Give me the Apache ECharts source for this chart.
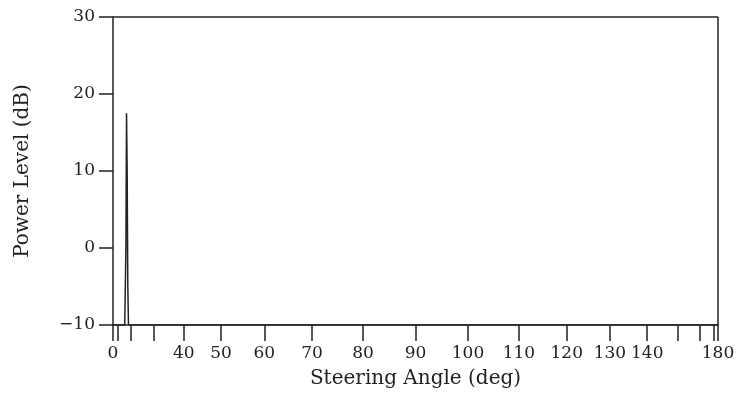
<!DOCTYPE html>
<html><head><meta charset="utf-8">
<script src="https://cdn.jsdelivr.net/npm/echarts@6/dist/echarts.min.js"></script>
<style>body{margin:0;background:#fff}#c{width:741px;height:409px}</style>
</head><body><div id="c"></div>
<script>
// steering angle (deg) and power level (dB) of the trace
var angles = [0, 16, 16.8, 17.2, 17.6, 18.0, 18.4, 180];
var power  = [-10, -10, 0, 17.5, 10, -5, -10, -10];
var tickAngles = [0, 10, 20, 30, 40, 50, 60, 70, 80, 90, 100, 110, 120, 130, 140, 150, 160, 170, 180];
var labelAngles = [0, 40, 50, 60, 70, 80, 90, 100, 110, 120, 130, 140, 180];

// the axis is linear in (1 - cos angle) / 2
function toU(a) { return (1 - Math.cos(a * Math.PI / 180)) / 2; }
function toDeg(u) { return Math.round(Math.acos(1 - 2 * u) * 180 / Math.PI); }

var data = angles.map(function (a, i) { return [toU(a), power[i]]; });
var font = 'DejaVu Serif';

var chart = echarts.init(document.getElementById('c'));
chart.setOption({
  animation: false,
  grid: { left: 113, right: 23, top: 17, bottom: 84 },
  xAxis: {
    type: 'value', min: 0, max: 1,
    name: 'Steering Angle (deg)', nameLocation: 'middle', nameGap: 44,
    nameTextStyle: { fontFamily: font, fontSize: 20, color: '#222' },
    axisLine: { onZero: false, lineStyle: { color: '#222', width: 1.5 } },
    axisTick: { show: true, length: 16, inside: false, customValues: tickAngles.map(toU), lineStyle: { color: '#222', width: 1.5 } },
    axisLabel: { customValues: labelAngles.map(toU), margin: 20, fontFamily: font, fontSize: 17, color: '#222',
      formatter: function (v) { return String(toDeg(v)); } },
    splitLine: { show: false }
  },
  yAxis: {
    type: 'value', min: -10, max: 30, interval: 10,
    name: 'Power Level (dB)', nameLocation: 'middle', nameGap: 80,
    nameTextStyle: { fontFamily: font, fontSize: 20, color: '#222' },
    axisLine: { show: true, onZero: false, lineStyle: { color: '#222', width: 1.5 } },
    axisTick: { show: true, length: 14, inside: false, lineStyle: { color: '#222', width: 1.5 } },
    axisLabel: { margin: 18, fontFamily: font, fontSize: 17, color: '#222',
      formatter: function (v) { return v < 0 ? '\u2212' + (-v) : String(v); } },
    splitLine: { show: false }
  },
  series: [{
    type: 'line', data: data, symbol: 'none',
    lineStyle: { color: '#222', width: 1.5 },
    markLine: { silent: true, symbol: 'none', label: { show: false },
      lineStyle: { color: '#222', width: 1.5, type: 'solid' },
      data: [{ yAxis: 30 }, { xAxis: 1 }] }
  }]
});
</script></body></html>
